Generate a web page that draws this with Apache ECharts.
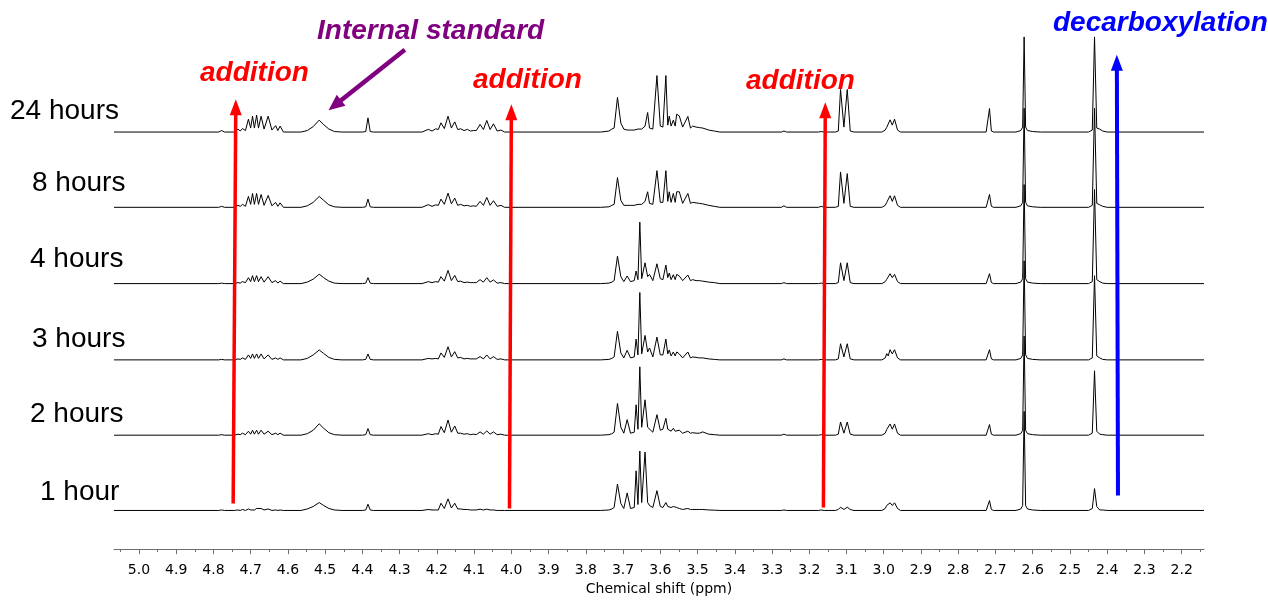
<!DOCTYPE html>
<html>
<head>
<meta charset="utf-8">
<script src="https://cdn.jsdelivr.net/npm/echarts/dist/echarts.min.js"></script>
<style>
html,body{margin:0;padding:0;background:#fff;}
#chart{width:1268px;height:601px;}
</style>
</head>
<body>
<div id="chart"></div>
<script>
// ---------------- DATA ----------------
const spectrumNames = ['1 hour', '2 hours', '3 hours', '4 hours', '8 hours', '24 hours'];

// chemical shift sample points (ppm) shared by every trace
const ppmPoints = [
  5.067,4.786,4.778,4.770,4.744,4.734,4.728,4.722,4.714,4.706,4.700,4.695,4.690,4.684,4.679,4.672,4.664,4.653,4.643,4.633,4.627,4.621,4.612,
  4.565,4.548,4.532,4.516,4.504,4.490,4.475,4.455,
  4.400,4.391,4.385,4.379,4.370,
  4.240,4.223,4.213,4.203,4.196,4.189,4.180,4.170,4.161,4.152,4.144,4.136,4.127,4.118,4.110,4.102,4.094,4.084,4.075,4.066,4.057,4.048,4.038,4.028,4.018,
  3.760,3.738,3.730,3.724,3.715,3.706,3.698,3.689,3.680,3.670,3.665,3.660,3.655,3.650,3.646,3.641,3.634,3.629,3.620,3.609,3.600,3.593,3.585,3.580,3.576,3.571,3.565,3.560,3.556,3.549,3.540,3.526,3.519,3.513,3.508,3.504,3.499,3.495,3.490,3.486,3.470,3.455,3.440,
  3.275,3.268,3.261,3.175,3.168,3.160,3.130,3.122,3.116,3.107,3.098,3.090,3.080,
  3.005,2.996,2.992,2.988,2.983,2.977,2.971,2.963,2.955,
  2.725,2.721,2.716,2.711,2.705,2.645,2.632,2.627,2.623,2.619,2.614,2.600,2.580,
  2.450,2.440,2.434,2.428,2.420,2.412,2.400,2.140
];

// intensities (arbitrary units)
const int1h = [
  0,0,0.5,0,0,0.5,0,1,0,1.5,0.5,2,0.5,2,0.5,2,0.5,1.5,0,0.5,0,0.5,0,
  0,1.5,4,8,5,2,0.5,0,
  0,0.5,6.3,0.5,0,
  0,1,0.5,0.5,0.5,7.3,2,11.7,2.5,7.3,1.5,1.5,1,1,0.5,0.5,0.5,1.3,0.5,1.3,0.5,0.5,0,0,0,
  0,0.5,1.5,3,26.7,7,2,17.7,2,3,40,6,60,8,10,59,8,5,3,20,4,3,8,4,4,3,4,3,3,2,1,2,1,1,1,1,1,1,0.5,1,0.5,0.3,0,
  0,0.5,0,0,0.5,0,0,1,3.3,1,3.3,1,0,
  0,2,5,4,7.7,5,7.7,2,0,
  0,1,10,1,0,0,1.5,5,100,5,1.5,0.5,0,
  0,2,22,4,0.5,0.5,0,0
];
const int2h = [
  0,0,0.5,0,0,1,0.5,2,0.5,4,1,5,1,5,1,5,1,4,0.5,2,0.5,2,0,
  0,1.5,5,11.5,7,2.5,0.5,0,
  0,0.5,6.7,0.5,0,
  0,1.5,0.5,1.5,1,8.7,2.5,15.3,3,9.3,2,2,1,1.5,0.5,1,0.5,3.3,1,4.3,1,3.3,0.5,1,0,
  0,0.5,1.5,3,32,8,2,15.7,2,3,30.7,6,69,8,10,35.7,8,7,3,20.7,5,6,17,6,8,4,7,4,6,5,2,4,2,2.5,2,2,1.5,2,1.5,3.3,1,0.5,0,
  0,1,0,0,0.5,0,0,1,13.3,2,13.3,1,0,
  0,2,5.7,4,11.3,6,11.3,2,0,
  0,1,10.7,1,0,0,1.5,5,100,5,1.5,0.5,0,
  0,2,65,4,1,0.5,0,0
];
const int3h = [
  0,0,0.5,0,0,1,0.5,2,0.5,5,1.5,6,1.5,6,1.5,6,1,5,0.5,2,0.5,2,0,
  0,1.5,5,10,6.5,2.5,0.5,0,
  0,0.5,6,0.5,0,
  0,1.5,1,1.5,1,7,2.5,13.3,3,8.3,2,2.5,1,1.5,1,1,1,3.3,1,5,1,3.3,0.5,1,0,
  0,0.5,1.5,3,29,7,2,9.7,2,3,21,5,68,6,8,24.7,8,12,3,23,5,5,21,6,10,4,8,4,8,6,2,8,2,3,2,2.5,2,2,1.5,2,1,0.5,0,
  0,1,0,0,0.5,0,0,1,16.3,3,16.3,1,0,
  0,2,6.3,4,10.3,6,10.3,2,0,
  0,1,10.3,1,0,0,1.5,5,100,5,1.5,0.5,0,
  0,2,85,4,2,0.5,0,0
];
const int4h = [
  0,0,0.5,0,0,1,0.5,2,1,6,2,8,2,8,2,7,1.5,7,1,3,0.5,2.5,0,
  0,1.5,4.5,9.5,6,2.5,0.5,0,
  0,0.5,6,0.5,0,
  0,2,1,2,1.5,7,2.5,13.3,3,8.3,2,2.5,1,1.5,1,1,1,4,1.5,6,1.5,3.7,0.5,1,0,
  0,0.5,1.5,3,27.7,7,2,7.7,2,3,12.7,4,62,5,6,21,7,9.3,3,20,5,4,18.7,6,10.7,4,9,4,9.3,7.7,3,8.7,3,4,3,3,2.5,3,2,2.5,1.5,1,0,
  0,1,0,0,0.5,0,0,1,21,3,21,1,0,
  0,2,4.3,4,10,6,9.3,2,0,
  0,1,10,1,0,0,1.5,5,100,5,1.5,0.5,0,
  0,2,95,4,2,0.5,0,0
];
const int8h = [
  0,0,1,0,0,2,1,3,1,11,3,14,3,14,3,13,2,12,1.5,5,1,4.5,0,
  0,1.5,5,11,7,2.5,0.5,0,
  0,0.5,8.3,0.5,0,
  0,2.7,1,2.5,2,8.3,3,14.3,3.5,9.3,2,3,1.5,2,1,1.5,1,6,2,10,2,6.7,1,2,0,
  0,0.5,2,3,30,7,2,2,2,2,2.5,3,4,3,3,6,15.7,4,3,37,5,5,37,6,15.7,5,14,5,15.7,15.7,4,14,4,5,4,4.5,3.5,4,3,3.5,2,1,0,
  0,1.5,0,0,1,0,0,1,35.7,4,34,1,0,
  0,2,5,4,11.7,6,11.7,2,0,
  0,1,13,1,0,0,1.5,5,100,5,1.5,0.5,0,
  0,2,100,4,2.5,1,0,0
];
const int24h = [
  0,0,1.5,0,0,3,1,3.5,1.5,13,4,16,4,17,4,16,3,16,2,6.5,1.5,6,0,
  0,1.5,5.5,12,7.5,3,0.5,0,
  0,0.5,14.3,0.5,0,
  0,2.7,1,3.3,2.5,9.3,3.5,16,4,10.3,2.5,3.3,1.5,2.7,1,1.5,1.5,7.7,2.5,11.7,2.5,8.3,1,2,0,
  0,1,3,4,35,9,3,2,2,2,3,3,3,3,5,6,19.7,4,3,57,6,5,57,7,16,6,12,6,18,16.3,5,15.7,4,6,4,5,4,4.5,3.5,4,2,1,0,
  0,1,0,0,0.5,0,0,1,43,5,43,1,0,
  0,2,4.7,4,12.3,7,13,2,0,
  0,1,23.7,1,0,0,1.5,5,96,5,1.5,0.5,0,
  0,2,96,4,3,1,0,0
];

// axis ticks (ppm)
const tickValues = [5.0,4.9,4.8,4.7,4.6,4.5,4.4,4.3,4.2,4.1,4.0,3.9,3.8,3.7,3.6,3.5,3.4,3.3,3.2,3.1,3.0,2.9,2.8,2.7,2.6,2.5,2.4,2.3,2.2];
const minorTickValues = [5.05,4.95,4.85,4.75,4.65,4.55,4.45,4.35,4.25,4.15,4.05,3.95,3.85,3.75,3.65,3.55,3.45,3.35,3.25,3.15,3.05,2.95,2.85,2.75,2.65,2.55,2.45,2.35,2.25,2.15];

// annotations
const annotationTexts = ['addition', 'addition', 'addition', 'Internal standard', 'decarboxylation'];

// ---------------- LAYOUT ----------------
const traces = [int1h, int2h, int3h, int4h, int8h, int24h];
traces.forEach((t, k) => { if (t.length !== ppmPoints.length) throw new Error('length mismatch ' + k + ': ' + t.length + ' vs ' + ppmPoints.length); });

const stackBase = [39, 115, 191, 268, 345, 421];   // vertical stacking of traces (y-axis units)
const labelPos = [[40, 492], [30, 414], [32, 339], [30, 259], [32, 183], [10, 111]];

const chart = echarts.init(document.getElementById('chart'), null, {renderer: 'canvas'});

const series = traces.map((vals, k) => ({
  type: 'line',
  name: spectrumNames[k],
  xAxisIndex: 0,
  yAxisIndex: 0,
  showSymbol: false,
  symbol: 'none',
  silent: true,
  animation: false,
  lineStyle: {color: '#000', width: 1},
  data: ppmPoints.map((p, i) => [p, stackBase[k] + vals[i]]),
  z: 2
}));

// arrows drawn in data coordinates (ppm, y-units)
function arrow(from, to, color, width, head) {
  return [
    {coord: from, symbol: 'none', lineStyle: {color: color, width: width, type: 'solid'}},
    {coord: to, symbol: 'triangle', symbolSize: head, itemStyle: {color: color}}
  ];
}
series.push({
  type: 'line',
  data: [],
  silent: true,
  animation: false,
  markLine: {
    silent: true,
    animation: false,
    symbol: ['none', 'triangle'],
    label: {show: false},
    emphasis: {disabled: true},
    data: [
      arrow([4.747, 46], [4.740, 446], '#ff0000', 3.5, [12, 16]),
      arrow([4.005, 41], [4.000, 441], '#ff0000', 3.5, [12, 16]),
      arrow([3.162, 42], [3.157, 443], '#ff0000', 3.5, [12, 16]),
      arrow([2.371, 54], [2.374, 491], '#0000ff', 4, [12, 16]),
      arrow([4.286, 504], [4.474, 448], '#800080', 4.5, [14, 16])
    ]
  },
  z: 5
});

const graphics = [];
spectrumNames.forEach((name, k) => {
  graphics.push({
    type: 'text', x: labelPos[k][0], y: labelPos[k][1], silent: true,
    style: {text: name, font: '28px "Liberation Sans", Arial, sans-serif', fill: '#000', textAlign: 'left', textVerticalAlign: 'middle'}
  });
});
const annPos = [
  {x: 200, y: 73, color: '#ff0000'},
  {x: 473, y: 80.5, color: '#ff0000'},
  {x: 746, y: 81.5, color: '#ff0000'},
  {x: 317, y: 31.5, color: '#800080'},
  {x: 1053, y: 23.5, color: '#0000ff'}
];
annotationTexts.forEach((t, i) => {
  graphics.push({
    type: 'text', x: annPos[i].x, y: annPos[i].y, silent: true,
    style: {text: t, font: 'italic bold 28px "Liberation Sans", Arial, sans-serif', fill: annPos[i].color, textAlign: 'left', textVerticalAlign: 'middle'}
  });
});

const axisGray = '#6e6e6e';
const option = {
  animation: false,
  backgroundColor: '#fff',
  grid: {left: 114, right: 64, top: 30, bottom: 47, containLabel: false},
  xAxis: [
    {
      type: 'value', min: 2.14, max: 5.067, inverse: true, position: 'bottom',
      name: 'Chemical shift (ppm)', nameLocation: 'middle', nameGap: 29,
      nameTextStyle: {fontFamily: '"DejaVu Sans", Verdana, sans-serif', fontSize: 14, color: '#000'},
      axisLine: {show: true, onZero: false, lineStyle: {color: axisGray, width: 1}},
      axisTick: {show: true, length: 5, customValues: tickValues, lineStyle: {color: axisGray, width: 1}},
      axisLabel: {show: true, customValues: tickValues, margin: 14, formatter: v => Number(v).toFixed(1),
        fontFamily: '"DejaVu Sans", Verdana, sans-serif', fontSize: 14, color: '#000'},
      splitLine: {show: false}
    },
    {
      type: 'value', min: 2.14, max: 5.067, inverse: true, position: 'bottom',
      axisLine: {show: false},
      axisTick: {show: true, length: 3, customValues: minorTickValues, lineStyle: {color: axisGray, width: 1}},
      axisLabel: {show: false},
      splitLine: {show: false}
    }
  ],
  yAxis: {type: 'value', min: 0, max: 524, show: false, splitLine: {show: false}},
  series: series,
  graphic: graphics
};
chart.setOption(option);
</script>
</body>
</html>
